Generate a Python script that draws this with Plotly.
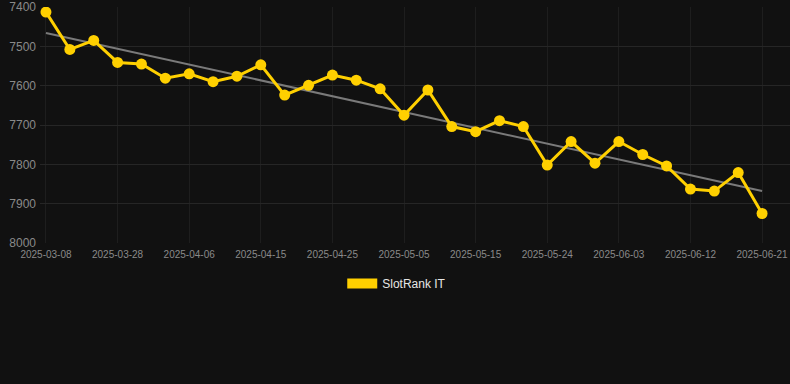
import plotly.graph_objects as go

dates = ["2025-03-08", "2025-03-22", "2025-03-25", "2025-03-28", "2025-03-31", "2025-04-03",
         "2025-04-06", "2025-04-09", "2025-04-12", "2025-04-15", "2025-04-18", "2025-04-22",
         "2025-04-25", "2025-04-28", "2025-05-02", "2025-05-05", "2025-05-08", "2025-05-12",
         "2025-05-15", "2025-05-18", "2025-05-21", "2025-05-24", "2025-05-27", "2025-05-31",
         "2025-06-03", "2025-06-06", "2025-06-09", "2025-06-12", "2025-06-15", "2025-06-18",
         "2025-06-21"]
ranks = [7413, 7508, 7485, 7541, 7545, 7581, 7570, 7590, 7576, 7547, 7624, 7599,
         7573, 7586, 7608, 7675, 7611, 7704, 7717, 7689, 7704, 7802, 7742, 7797,
         7742, 7775, 7804, 7863, 7868, 7821, 7925]
trend_dates = [dates[0], dates[-1]]
trend_values = [7466, 7868]
tick_labels = dates[::3]
y_ticks = [7400, 7500, 7600, 7700, 7800, 7900, 8000]
series_name = "SlotRank IT"

gold = "#FFD000"

fig = go.Figure()
fig.add_trace(go.Scatter(x=trend_dates, y=trend_values, mode="lines",
                         line=dict(color="#7a7a7a", width=2), showlegend=False,
                         hoverinfo="skip"))
fig.add_trace(go.Scatter(x=dates, y=ranks, mode="lines+markers",
                         line=dict(color=gold, width=3),
                         marker=dict(color=gold, size=11),
                         showlegend=False, name=series_name))
fig.add_trace(go.Scatter(x=[None], y=[None], mode="lines",
                         line=dict(color=gold, width=10), name=series_name))

fig.update_layout(
    width=790, height=384,
    paper_bgcolor="#111111", plot_bgcolor="#111111",
    margin=dict(l=40, r=0, t=7, b=141),
    font=dict(family="Liberation Sans, Arial, sans-serif", color="#8a8a8a"),
    showlegend=True,
    legend=dict(orientation="h", x=0.403, xanchor="left", y=-0.11, yanchor="top",
                font=dict(color="#e6e6e6", size=12), bgcolor="rgba(0,0,0,0)"),
)
fig.update_xaxes(type="category", categoryorder="array", categoryarray=dates,
                 range=[-0.25, 31.17], tickvals=tick_labels, ticktext=tick_labels,
                 tickfont=dict(size=10, color="#8a8a8a"), showgrid=True,
                 gridcolor="#1e1e1e", zeroline=False, showline=False, ticks="",
                 ticklabelstandoff=4)
fig.update_yaxes(range=[8000, 7400], tickvals=y_ticks, tickfont=dict(size=12, color="#8a8a8a"),
                 showgrid=True, gridcolor="#262626", zeroline=False, showline=False,
                 ticks="", ticklabelstandoff=3)

fig.write_html("out.html", config={"displayModeBar": False},
               post_script="document.body.style.margin='0';document.body.style.background='#111111';")
